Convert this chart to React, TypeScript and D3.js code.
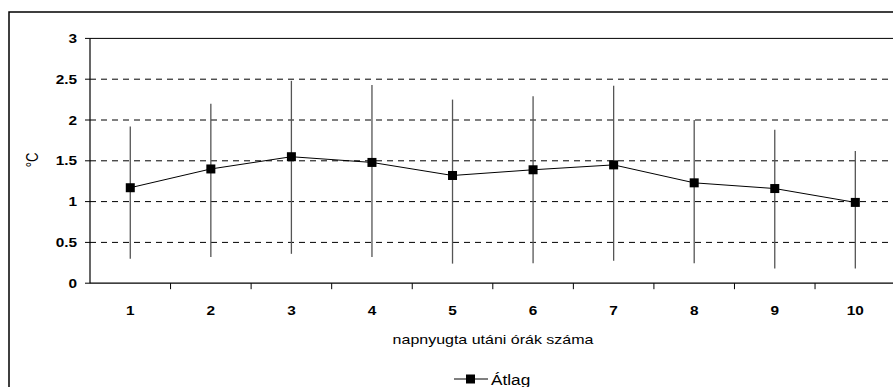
import React from 'react';
import * as d3 from 'd3';

// hours after sunset
const hours = ['1', '2', '3', '4', '5', '6', '7', '8', '9', '10'];
// mean (Átlag)
const meanValues = [1.17, 1.40, 1.55, 1.48, 1.32, 1.39, 1.45, 1.23, 1.16, 0.99];
// error bar top / bottom
const upperValues = [1.92, 2.20, 2.48, 2.43, 2.25, 2.29, 2.42, 2.00, 1.88, 1.62];
const lowerValues = [0.30, 0.32, 0.36, 0.32, 0.24, 0.245, 0.275, 0.245, 0.18, 0.18];
const yTicks = [0, 0.5, 1, 1.5, 2, 2.5, 3];

const font = 'Arial, "Liberation Sans", sans-serif';
const stretch = 1.23; // the original picture is widened horizontally

// text helper: draws stretched text at (x, y)
const addText = (sel, x, y, txt, opts) => {
    return sel.append('text')
        .attr('transform', `translate(${x},${y}) scale(${stretch},1)`)
        .attr('text-anchor', opts.anchor || 'start')
        .attr('font-family', font)
        .attr('font-weight', opts.bold ? 'bold' : 'normal')
        .attr('font-size', opts.size)
        .attr('fill', 'black')
        .text(txt);
};

const plotChart = (ref) => {
    const width = 893;
    const height = 387;
    const margin = { top: 38.4, left: 90, bottom: 283.2 };
    const bandW = 80.56;

    const svg = d3.select(ref.current)
        .attr('width', width)
        .attr('height', height);
    svg.selectAll('*').remove();

    // outer chart border
    svg.append('rect')
        .attr('x', 9).attr('y', 12)
        .attr('width', 900).attr('height', 400)
        .attr('fill', 'white')
        .attr('stroke', 'black')
        .attr('stroke-width', 1.5);

    const x = d3.scaleBand()
        .domain(hours)
        .range([margin.left, margin.left + bandW * hours.length]);

    const y = d3.scaleLinear()
        .domain([0, 3])
        .range([margin.bottom, margin.top]);

    const g = svg.append('g');

    // dashed gridlines
    g.selectAll('line.grid')
        .data(yTicks.filter(t => t > 0 && t < 3))
        .enter().append('line')
        .attr('x1', margin.left).attr('x2', width)
        .attr('y1', d => y(d)).attr('y2', d => y(d))
        .attr('stroke', 'black')
        .attr('stroke-width', 1)
        .attr('stroke-dasharray', '6,5');

    // plot area top border
    g.append('line')
        .attr('x1', margin.left).attr('x2', width)
        .attr('y1', y(3)).attr('y2', y(3))
        .attr('stroke', 'black').attr('stroke-width', 1);

    // y axis
    g.append('line')
        .attr('x1', margin.left).attr('x2', margin.left)
        .attr('y1', y(3)).attr('y2', y(0))
        .attr('stroke', 'black').attr('stroke-width', 1.2);
    g.selectAll('line.ytick')
        .data(yTicks)
        .enter().append('line')
        .attr('x1', margin.left - 5).attr('x2', margin.left)
        .attr('y1', d => y(d)).attr('y2', d => y(d))
        .attr('stroke', 'black');
    yTicks.forEach(t => {
        addText(g, 77, y(t) + 4.5, String(t), { anchor: 'end', bold: true, size: 12.5 });
    });

    // x axis with ticks between categories
    g.append('line')
        .attr('x1', margin.left).attr('x2', width)
        .attr('y1', y(0)).attr('y2', y(0))
        .attr('stroke', 'black').attr('stroke-width', 1.2);
    g.selectAll('line.xtick')
        .data(hours.slice(1))
        .enter().append('line')
        .attr('x1', d => x(d)).attr('x2', d => x(d))
        .attr('y1', y(0)).attr('y2', y(0) + 6)
        .attr('stroke', 'black');
    hours.forEach(h => {
        addText(g, x(h) + x.bandwidth() / 2, 315, h, { anchor: 'middle', bold: true, size: 12.5 });
    });

    // error bars
    g.selectAll('line.err')
        .data(hours)
        .enter().append('line')
        .attr('x1', d => x(d) + x.bandwidth() / 2)
        .attr('x2', d => x(d) + x.bandwidth() / 2)
        .attr('y1', (d, i) => y(upperValues[i]))
        .attr('y2', (d, i) => y(lowerValues[i]))
        .attr('stroke', '#555')
        .attr('stroke-width', 1.3);

    // mean line
    const line = d3.line()
        .x((d, i) => x(hours[i]) + x.bandwidth() / 2)
        .y(d => y(d));
    g.append('path')
        .datum(meanValues)
        .attr('fill', 'none')
        .attr('stroke', 'black')
        .attr('stroke-width', 1)
        .attr('d', line);

    // markers
    g.selectAll('rect.dot')
        .data(meanValues)
        .enter().append('rect')
        .attr('x', (d, i) => x(hours[i]) + x.bandwidth() / 2 - 4.5)
        .attr('y', d => y(d) - 4.5)
        .attr('width', 9).attr('height', 9)
        .attr('fill', 'black');

    // y axis title (rotated, so the stretch acts on its height)
    svg.append('text')
        .attr('transform', `translate(38,160) scale(${stretch},1) rotate(-90)`)
        .attr('text-anchor', 'middle')
        .attr('font-family', font)
        .attr('font-size', 13)
        .attr('fill', 'black')
        .text('°C');

    // x axis title
    addText(svg, 493, 344, 'napnyugta utáni órák száma', { anchor: 'middle', size: 13 });

    // legend
    svg.append('line')
        .attr('x1', 454).attr('x2', 488)
        .attr('y1', 379).attr('y2', 379)
        .attr('stroke', 'black').attr('stroke-width', 1);
    svg.append('rect')
        .attr('x', 466).attr('y', 374.5)
        .attr('width', 9).attr('height', 9)
        .attr('fill', 'black');
    addText(svg, 491, 384.5, 'Átlag', { size: 14 });
};

function App() {
    const ref = React.useRef(null);

    React.useEffect(() => {
        plotChart(ref);
    }, []);

    return (
        <div style={{ position: 'fixed', left: 0, top: 0, width: 893, height: 387, overflow: 'hidden', background: 'white' }}>
            <svg ref={ref} style={{ display: 'block' }} />
        </div>
    );
}

export default App;
